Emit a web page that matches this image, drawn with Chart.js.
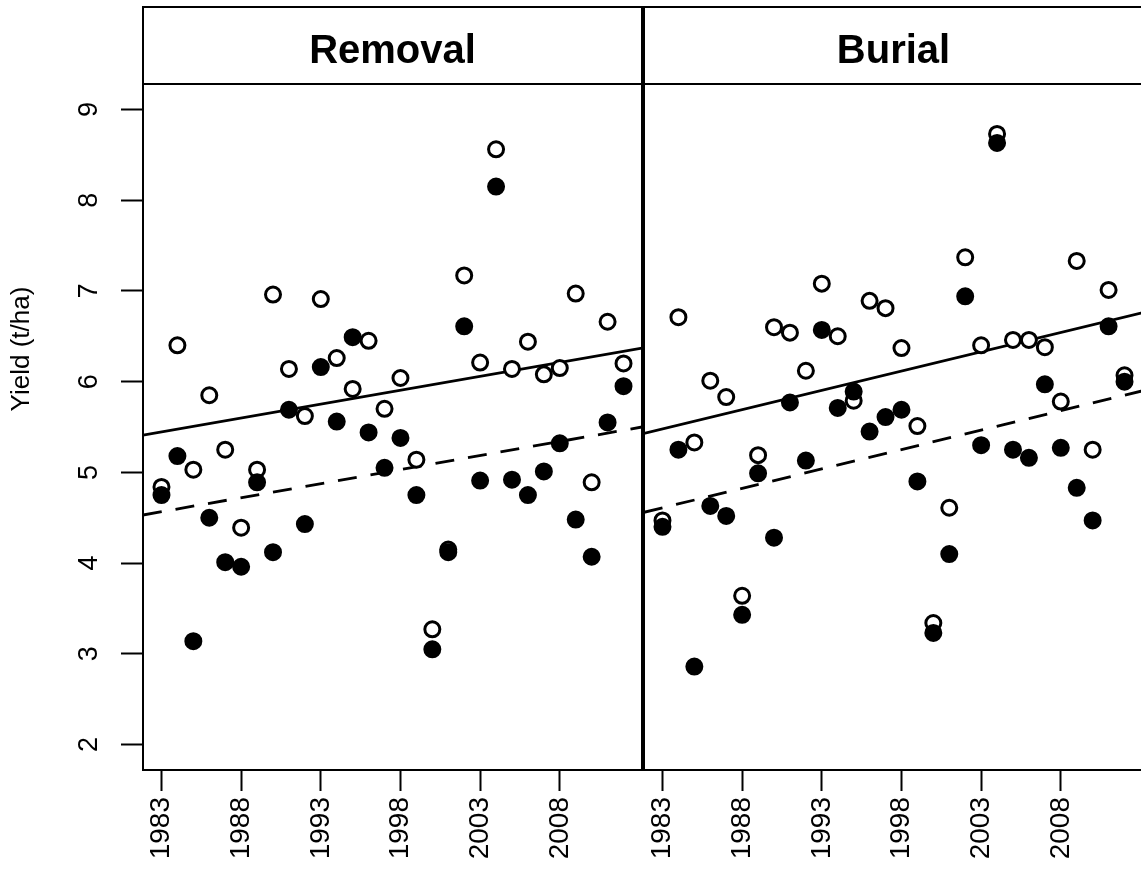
<!DOCTYPE html>
<html><head><meta charset="utf-8">
<script src="https://cdn.jsdelivr.net/npm/chart.js@4.4.0/dist/chart.umd.min.js"></script>
<style>
html,body{margin:0;padding:0;background:#fff;overflow:hidden;width:1141px;height:892px;position:relative;}
canvas{position:absolute;top:0;}
#cA{left:0;} #cB{left:500px;}
</style></head><body>
<canvas id="cA" width="1141" height="892"></canvas>
<canvas id="cB" width="700" height="892"></canvas>
<script>
// ---------- data ----------
const years = [1983,1984,1985,1986,1987,1988,1989,1990,1991,1992,1993,1994,1995,1996,1997,
               1998,1999,2000,2001,2002,2003,2004,2005,2006,2007,2008,2009,2010,2011,2012];
const panelTitles = ['Removal', 'Burial'];
const yTitle = 'Yield (t/ha)';
const xTicks = [1983, 1988, 1993, 1998, 2003, 2008];
const xTickLabels = ['1983', '1988', '1993', '1998', '2003', '2008'];
const yTicks = [2, 3, 4, 5, 6, 7, 8, 9];
const yTickLabels = ['2', '3', '4', '5', '6', '7', '8', '9'];
const xRange = [1981.84, 2013.16];
const yRange = [1.72, 9.28];

// Removal panel
const removalOpen   = [4.84,6.40,5.03,5.85,5.25,4.39,5.03,6.96,6.14,5.62,6.91,6.26,5.92,6.45,5.70,
                       6.04,5.14,3.27,4.15,7.17,6.21,8.56,6.14,6.44,6.08,6.15,6.97,4.89,6.66,6.20];
const removalFilled = [4.75,5.18,3.14,4.50,4.01,3.96,4.89,4.12,5.69,4.43,6.16,5.56,6.49,5.44,5.05,
                       5.38,4.75,3.05,4.12,6.61,4.91,8.15,4.92,4.75,5.01,5.32,4.48,4.07,5.55,5.95];
const removalSolid  = [5.41, 6.37];   // fitted line values at xRange ends
const removalDashed = [4.53, 5.50];

// Burial panel
const burialOpen    = [4.47,6.71,5.33,6.01,5.83,3.64,5.19,6.60,6.54,6.12,7.08,6.50,5.79,6.89,6.81,
                       6.37,5.51,3.34,4.61,7.37,6.40,8.73,6.46,6.46,6.38,5.78,7.33,5.25,7.01,6.07];
const burialFilled  = [4.40,5.25,2.86,4.63,4.52,3.43,4.99,4.28,5.77,5.13,6.57,5.71,5.89,5.45,5.61,
                       5.69,4.90,3.23,4.10,6.94,5.30,8.63,5.25,5.16,5.97,5.27,4.83,4.47,6.61,6.00];
const burialSolid   = [5.43, 6.76];
const burialDashed  = [4.56, 5.90];

// ---------- drawing ----------
const FONT = '"Liberation Sans", Arial, Helvetica, sans-serif';

const panelPlugin = {
  id: 'panel',
  afterDraw(chart, args, opts) {
    const ctx = chart.ctx, a = chart.chartArea;
    ctx.save();
    ctx.strokeStyle = '#000';
    ctx.lineWidth = 2;
    ctx.strokeRect(a.left, a.top, a.right - a.left, a.bottom - a.top);
    ctx.strokeRect(a.left, opts.stripTop, a.right - a.left, a.top - opts.stripTop);
    ctx.fillStyle = '#000';
    ctx.font = 'bold 40px ' + FONT;
    ctx.textAlign = 'center';
    ctx.textBaseline = 'alphabetic';
    ctx.fillText(opts.title, (a.left + a.right) / 2, opts.stripBaseline);
    if (opts.yLabels) {
      const ys = chart.scales.y;
      ctx.font = '27px ' + FONT;
      ctx.textBaseline = 'middle';
      yTicks.forEach((v, i) => {
        const py = ys.getPixelForValue(v);
        ctx.save();
        ctx.translate(opts.yLabelX, py);
        ctx.rotate(-Math.PI / 2);
        ctx.fillText(yTickLabels[i], 0, 0);
        ctx.restore();
      });
      ctx.font = '26px ' + FONT;
      ctx.save();
      ctx.translate(opts.yTitleX, opts.yTitleY);
      ctx.rotate(-Math.PI / 2);
      ctx.fillText(yTitle, 0, 0);
      ctx.restore();
    }
    ctx.restore();
  }
};

function makeDatasets(open, filled, solid, dashed) {
  const pts = arr => years.map((x, i) => ({ x: x, y: arr[i] }));
  const ln = arr => xRange.map((x, i) => ({ x: x, y: arr[i] }));
  return [
    { type: 'scatter', data: pts(filled), order: 0,
      pointRadius: 7.5, pointBorderWidth: 3, pointBackgroundColor: '#000', pointBorderColor: '#000',
      backgroundColor: '#000', borderColor: '#000' },
    { type: 'scatter', data: pts(open), order: 1,
      pointRadius: 7.5, pointBorderWidth: 3, pointBackgroundColor: '#fff', pointBorderColor: '#000',
      backgroundColor: '#fff', borderColor: '#000' },
    { type: 'line', data: ln(solid), order: 2, borderColor: '#000', borderWidth: 2.8,
      pointRadius: 0, fill: false, tension: 0 },
    { type: 'line', data: ln(dashed), order: 2, borderColor: '#000', borderWidth: 2.8,
      borderDash: [19, 14], pointRadius: 0, fill: false, tension: 0 }
  ];
}

function makeOptions(showY, padding, panelOpts) {
  return {
    responsive: false, animation: false, events: [],
    layout: { padding: padding },
    plugins: { legend: { display: false }, tooltip: { enabled: false }, panel: panelOpts },
    scales: {
      x: {
        type: 'linear', min: xRange[0], max: xRange[1],
        afterBuildTicks: s => { s.ticks = xTicks.map(v => ({ value: v })); },
        afterFit: s => { s.height = 122; },
        grid: { display: true, drawOnChartArea: false, drawTicks: true, tickLength: 21, tickWidth: 2, tickColor: '#000' },
        border: { display: true, color: '#000', width: 2 },
        ticks: { display: true, autoSkip: false, minRotation: 90, maxRotation: 90, padding: 6, color: '#000',
                 font: { family: FONT, size: 28 },
                 callback: v => { const k = xTicks.indexOf(v); return k >= 0 ? xTickLabels[k] : ''; } }
      },
      y: {
        type: 'linear', display: showY, min: yRange[0], max: yRange[1],
        afterBuildTicks: s => { s.ticks = yTicks.map(v => ({ value: v })); },
        afterFit: s => { s.width = showY ? 143 : 0; },
        grid: { display: true, drawOnChartArea: false, drawTicks: true, tickLength: 22, tickWidth: 2, tickColor: '#000' },
        border: { display: true, color: '#000', width: 2 },
        ticks: { display: false }
      }
    }
  };
}

new Chart(document.getElementById('cA'), {
  type: 'scatter',
  data: { datasets: makeDatasets(removalOpen, removalFilled, removalSolid, removalDashed) },
  options: makeOptions(true, { top: 84, right: 499, bottom: 0, left: 0 },
    { title: panelTitles[0], stripTop: 7, stripBaseline: 63, yLabels: true, yLabelX: 90, yTitleX: 22, yTitleY: 349 }),
  plugins: [panelPlugin]
});

new Chart(document.getElementById('cB'), {
  type: 'scatter',
  data: { datasets: makeDatasets(burialOpen, burialFilled, burialSolid, burialDashed) },
  options: makeOptions(false, { top: 84, right: 57, bottom: 0, left: 144 },
    { title: panelTitles[1], stripTop: 7, stripBaseline: 63, yLabels: false }),
  plugins: [panelPlugin]
});
</script>
</body></html>
